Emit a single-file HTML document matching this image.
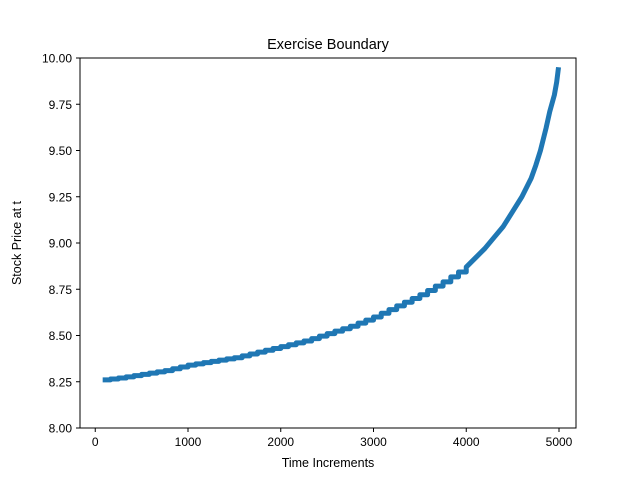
<!DOCTYPE html>
<html><head><meta charset="utf-8"><style>
body{margin:0;background:#fff;}
svg{display:block;font-family:"Liberation Sans","DejaVu Sans",sans-serif;}
</style></head><body>
<svg id="chart" width="640" height="480">
<rect width="640" height="480" fill="#fff"/>
<text x="328" y="49" font-size="14.5" text-anchor="middle">Exercise Boundary</text>
<g id="plot"></g>
<rect x="80" y="58" width="496" height="370" fill="none" stroke="#000" stroke-width="1"/>
<g id="xt"></g><g id="yt"></g>
<text x="328" y="467" font-size="12.5" text-anchor="middle">Time Increments</text>
<text transform="translate(21,243) rotate(-90)" font-size="12.5" text-anchor="middle">Stock Price at t</text>
</svg>
<script>
const xs=[80,250,500,750,1000,1250,1500,1750,2000,2250,2500,2750,3000,3250,3500,3750,4000,4100,4200,4300,4400,4500,4600,4700,4750,4800,4860,4900,4950,4975,4995];
const ys=[8.26,8.27,8.29,8.31,8.34,8.36,8.38,8.41,8.44,8.47,8.51,8.55,8.60,8.66,8.72,8.79,8.87,8.92,8.97,9.03,9.09,9.17,9.25,9.35,9.42,9.50,9.62,9.71,9.80,9.87,9.95];
const xTicks=[0,1000,2000,3000,4000,5000];
const yTicks=[8.00,8.25,8.50,8.75,9.00,9.25,9.50,9.75,10.00];
const NS="http://www.w3.org/2000/svg";
function X(v){return 95.25+v*0.09275;}
function Y(v){return 428-(v-8)*185;}
let pts=[[X(xs[0]),Y(ys[0])]];
for(let i=1;i<xs.length;i++){
 const dx=xs[i]-xs[i-1];
 if(dx>=150){
  const n=Math.max(1,Math.round(dx/100));
  for(let k=1;k<=n;k++){
   const xv=xs[i-1]+dx*k/n;
   const yPrev=ys[i-1]+(ys[i]-ys[i-1])*(k-1)/n;
   const yv=ys[i-1]+(ys[i]-ys[i-1])*k/n;
   pts.push([X(xv),Y(yPrev)]);pts.push([X(xv),Y(yv)]);
  }
 } else pts.push([X(xs[i]),Y(ys[i])]);
}
const pl=document.createElementNS(NS,"polyline");


pl.setAttribute("points",pts.map(p=>p.join(",")).join(" "));
pl.setAttribute("fill","none");pl.setAttribute("stroke","#1f77b4");
pl.setAttribute("stroke-width","5");pl.setAttribute("stroke-linejoin","round");
document.getElementById("plot").appendChild(pl);
const xt=document.getElementById("xt");
xTicks.forEach(t=>{
 const l=document.createElementNS(NS,"line");
 
 
 l.setAttribute("x1",X(t));l.setAttribute("x2",X(t));l.setAttribute("y1",428);l.setAttribute("y2",432);l.setAttribute("stroke","#000");
 xt.appendChild(l);
 const tx=document.createElementNS(NS,"text");
 
 
 tx.setAttribute("x",X(t));tx.setAttribute("y",446);tx.setAttribute("font-size","12");tx.setAttribute("text-anchor","middle");
 tx.textContent=t;xt.appendChild(tx);
});
const yt=document.getElementById("yt");
yTicks.forEach(t=>{
 const l=document.createElementNS(NS,"line");
 
 
 l.setAttribute("x1",76);l.setAttribute("x2",80);l.setAttribute("y1",Y(t));l.setAttribute("y2",Y(t));l.setAttribute("stroke","#000");
 yt.appendChild(l);
 const tx=document.createElementNS(NS,"text");
 
 
 tx.setAttribute("x",72);tx.setAttribute("y",Y(t)+4.5);tx.setAttribute("font-size","12");tx.setAttribute("text-anchor","end");
 tx.textContent=t.toFixed(2);yt.appendChild(tx);
});
</script>
</body></html>
